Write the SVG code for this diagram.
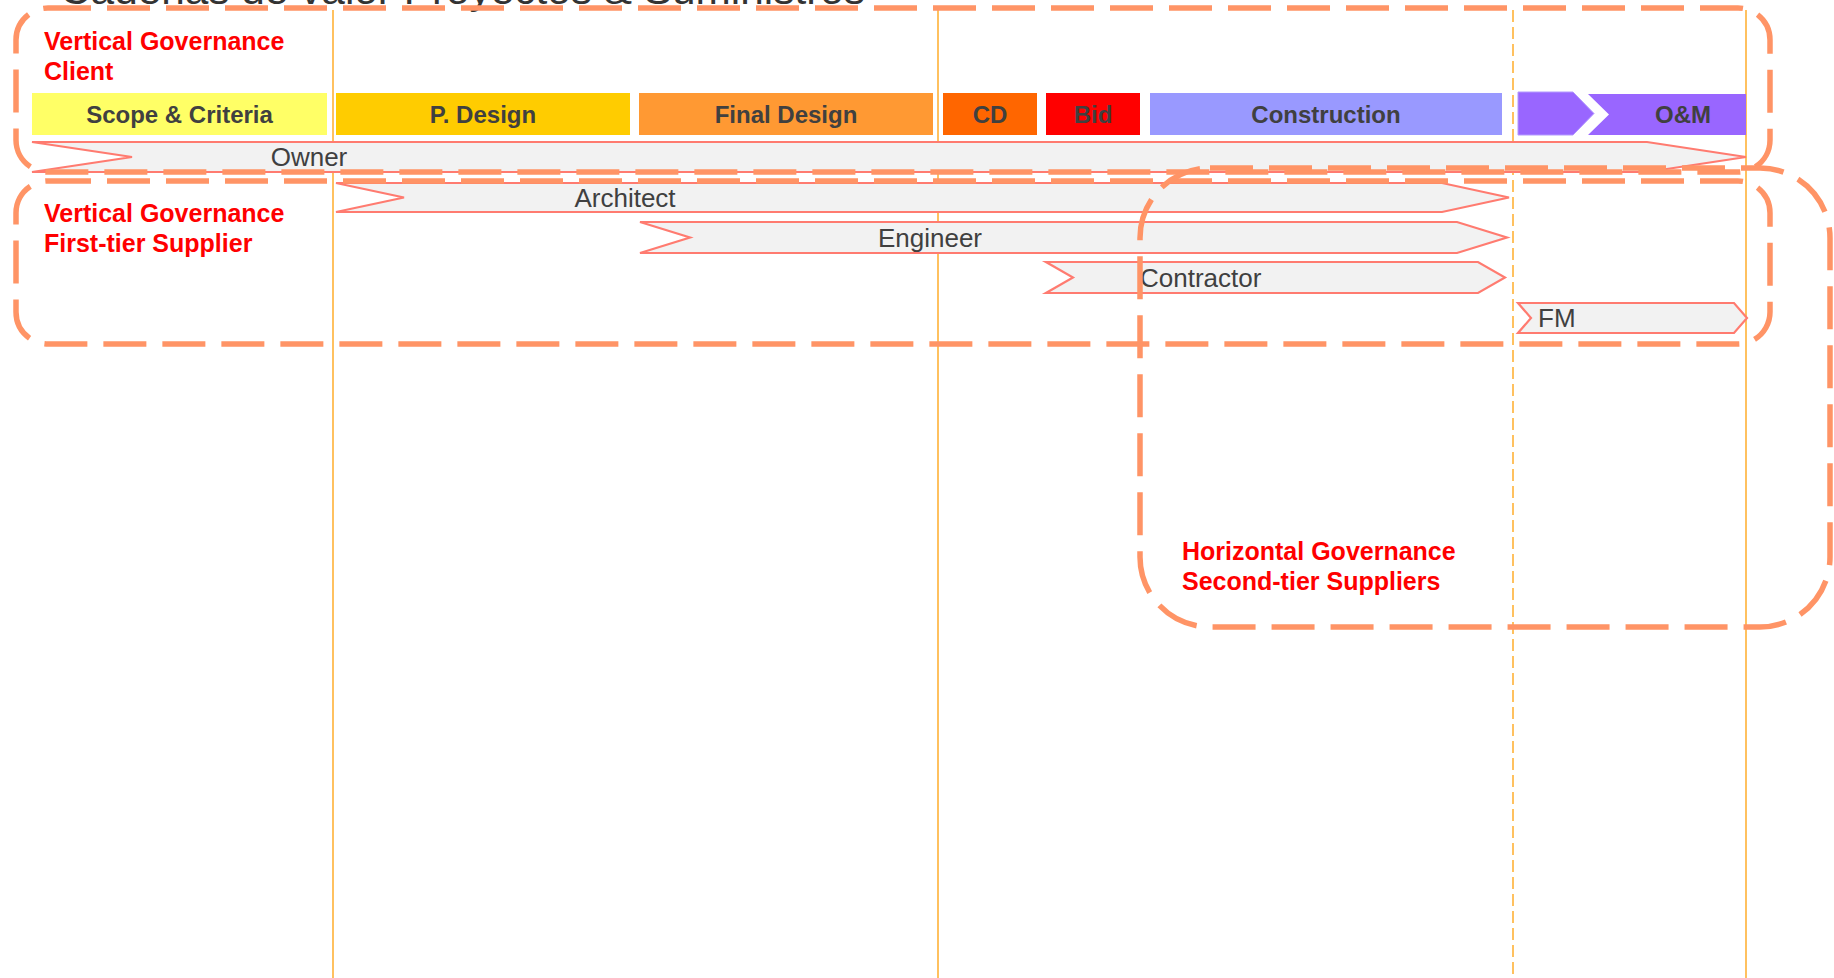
<svg xmlns="http://www.w3.org/2000/svg" width="1834" height="978" viewBox="0 0 1834 978">
<style>
text{font-family:"Liberation Sans",Arial,sans-serif}
.guide{stroke:#FFB238;stroke-width:1.6;fill:none}
.guide-d{stroke:#FFB238;stroke-width:1.6;fill:none;stroke-dasharray:12 5}
.phase{stroke:none}
.ptxt{font-size:24px;font-weight:bold;fill:#404040;text-anchor:middle}
.arrow{fill:#F2F2F2;stroke:#FF7B70;stroke-width:2.2;stroke-linejoin:miter}
.atxt{font-size:26px;fill:#404040}
.gov{fill:none;stroke:#FF9466;stroke-width:5.5;stroke-dasharray:43 16}
.red{font-size:25px;font-weight:bold;fill:#FF0000}
</style>
<rect width="1834" height="978" fill="#FFFFFF"/>
<text id="title" x="60" y="4" font-size="40" fill="#333333" textLength="805" lengthAdjust="spacingAndGlyphs">Cadenas de valor Proyectos &amp; Suministros</text>
<g id="guides">
<line class="guide" x1="333" y1="10" x2="333" y2="978"/>
<line class="guide" x1="938" y1="10" x2="938" y2="978"/>
<line class="guide-d" x1="1513" y1="10" x2="1513" y2="978"/>
<line class="guide" x1="1746" y1="10" x2="1746" y2="978"/>
</g>
<g id="phase-scope"><rect class="phase" x="32" y="93" width="295" height="42" fill="#FFFF66"/><text class="ptxt" x="179.5" y="123">Scope &amp; Criteria</text></g>
<g id="phase-pdesign"><rect class="phase" x="336" y="93" width="294" height="42" fill="#FFCC00"/><text class="ptxt" x="483" y="123">P. Design</text></g>
<g id="phase-final"><rect class="phase" x="639" y="93" width="294" height="42" fill="#FF9933"/><text class="ptxt" x="786" y="123">Final Design</text></g>
<g id="phase-cd"><rect class="phase" x="943" y="93" width="94" height="42" fill="#FF6600"/><text class="ptxt" x="990" y="123">CD</text></g>
<g id="phase-bid"><rect class="phase" x="1046" y="93" width="94" height="42" fill="#FF0000"/><text class="ptxt" x="1093" y="123">Bid</text></g>
<g id="phase-construction"><rect class="phase" x="1150" y="93" width="352" height="42" fill="#9999FF"/><text class="ptxt" x="1326" y="123">Construction</text></g>
<g id="phase-om">
<polygon points="1518,92 1573,92 1594,113.5 1573,135 1518,135" fill="#9966FF" stroke="#B399FF" stroke-width="1"/>
<polygon points="1588,94 1746,94 1746,135 1588,135 1609,114.5" fill="#9966FF"/>
<text class="ptxt" x="1683" y="123">O&amp;M</text>
</g>
<g id="owner"><polygon class="arrow" points="32,142 1647,142 1746,157 1647,172 32,172 132,157"/><text class="atxt" x="309" y="166" text-anchor="middle">Owner</text></g>
<g id="architect"><polygon class="arrow" points="336,183 1442,183 1509,197.5 1442,212 336,212 404,197.5"/><text class="atxt" x="625" y="206.5" text-anchor="middle">Architect</text></g>
<g id="engineer"><polygon class="arrow" points="640,222 1457,222 1507,237.5 1457,253 640,253 690,237.5"/><text class="atxt" x="930" y="246.5" text-anchor="middle">Engineer</text></g>
<g id="contractor"><polygon class="arrow" points="1046,262 1478,262 1505,277.5 1478,293 1046,293 1073,277.5"/><text class="atxt" x="1140" y="286.5">Contractor</text></g>
<g id="fm"><polygon class="arrow" points="1518,303 1734,303 1747,318 1734,333 1518,333 1531,318"/><text class="atxt" x="1538" y="327">FM</text></g>
<g id="vg-client"><rect class="gov" x="16" y="8" width="1754" height="164" rx="32" ry="32"/><text class="red" x="44" y="50">Vertical Governance</text><text class="red" x="44" y="80">Client</text></g>
<g id="vg-first-tier"><rect class="gov" x="16" y="181" width="1754" height="163" rx="32" ry="32"/><text class="red" x="44" y="222">Vertical Governance</text><text class="red" x="44" y="252">First-tier Supplier</text></g>
<g id="hg-second-tier"><rect class="gov" x="1140" y="168" width="690" height="459" rx="70" ry="70"/><text class="red" x="1182" y="560">Horizontal Governance</text><text class="red" x="1182" y="590">Second-tier Suppliers</text></g>
</svg>
